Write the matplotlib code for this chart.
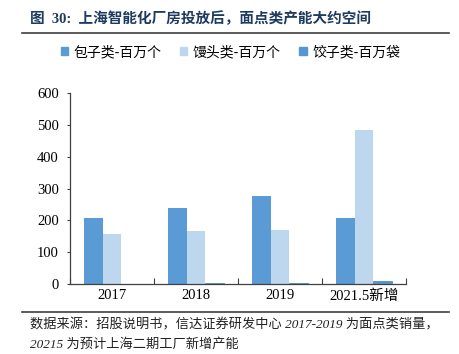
import numpy as np
import matplotlib
matplotlib.use("Agg")
import matplotlib.pyplot as plt
from matplotlib.lines import Line2D
from matplotlib.patches import Patch

plt.rcParams['font.family'] = ['Liberation Serif', 'Noto Sans CJK SC']

categories = ['2017', '2018', '2019', '2021.5新增']
baozi = [208, 239, 277, 208]
mantou = [156, 167, 170, 484]
jiaozi = [0, 4, 4, 10]
series_names = ['包子类-百万个', '馒头类-百万个', '饺子类-百万袋']

c1 = '#5B9BD5'
c2 = '#BDD7EE'
c3 = '#5597D3'

fig = plt.figure(figsize=(4.59, 3.54), dpi=100)
ax = fig.add_axes([0.1525, 0.198, 0.732, 0.539])

x = np.arange(len(categories))
w = 0.22
ax.bar(x - w, baozi, w, color=c1)
ax.bar(x, mantou, w, color=c2)
ax.bar(x + w, jiaozi, w, color=c3, edgecolor='#2E6DA4', linewidth=0.4)

ax.set_xlim(-0.5, 3.5)
ax.set_ylim(0, 600)
ax.set_yticks(range(0, 601, 100))
ax.tick_params(axis='y', labelsize=10.5, length=2, width=0.8, color='#404040', pad=6)
ax.set_xticks(x)
ax.set_xticklabels(categories, fontsize=10.5)
ax.tick_params(axis='x', length=0, pad=4)
ax.set_xticks(np.arange(-0.5, 3.6, 1), minor=True)
ax.tick_params(axis='x', which='minor', direction='in', length=4, width=0.8, color='#404040')
for s in ['top', 'right']:
    ax.spines[s].set_visible(False)
for s in ['left', 'bottom']:
    ax.spines[s].set_color('#404040')
    ax.spines[s].set_linewidth(0.9)

handles = [Patch(color=c) for c in (c1, c2, c3)]
fig.legend(handles, series_names, loc='center', bbox_to_anchor=(0.502, 0.853), ncol=3,
           frameon=False, handlelength=0.55, handleheight=0.55,
           handletextpad=0.4, columnspacing=1.3, prop={'family': ['Noto Sans CJK SC'], 'size': 10})

fig.text(0.065, 0.946, '图  30:  上海智能化厂房投放后，面点类产能大约空间', fontsize=10.5,
         fontweight='bold', color='#1F3A5F', va='center',
         family=['Liberation Serif', 'Noto Sans CJK SC'])
fig.add_artist(Line2D([0.048, 0.978], [0.906, 0.906], color='#404040', linewidth=1.2))
fig.add_artist(Line2D([0.048, 0.978], [0.118, 0.118], color='#404040', linewidth=1.2))
fig.text(0.065, 0.082, '数据来源：招股说明书，信达证券研发中心 2017-2019 为面点类销量，',
         fontsize=9.5, style='italic', color='#222222', va='center')
fig.text(0.065, 0.028, '20215 为预计上海二期工厂新增产能',
         fontsize=9.5, style='italic', color='#222222', va='center')

fig.savefig('out.png', dpi=100)
